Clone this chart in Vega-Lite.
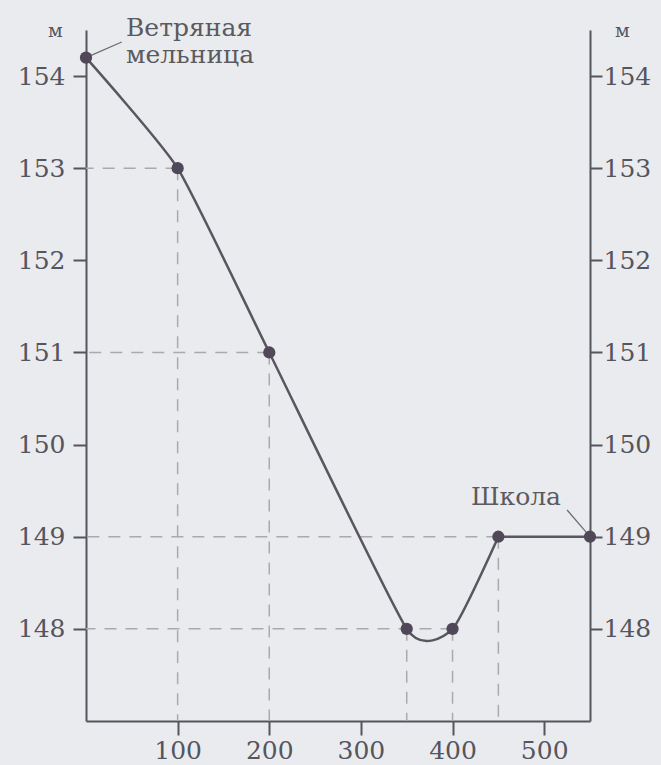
{
  "$schema": "https://vega.github.io/schema/vega-lite/v6.json",
  "width": 504,
  "height": 691,
  "autosize": {"type": "none"},
  "padding": {"left": 86, "top": 30, "right": 71, "bottom": 44},
  "background": "#eaebee",
  "config": {
    "view": {"stroke": null},
    "font": "DejaVu Serif",
    "axisX": {"title": null, "grid": false, "domainColor": "#55555e", "domainWidth": 2, "tickColor": "#55555e", "tickWidth": 2, "tickSize": 14, "labelFont": "DejaVu Serif", "labelFontSize": 25, "labelColor": "#55555e", "labelPadding": 3}
  },
  "datasets": {
    "points": [
      {"km": 0, "elev": 154.2, "name": "Ветряная\nмельница"},
      {"km": 100, "elev": 153, "name": ""},
      {"km": 200, "elev": 151, "name": ""},
      {"km": 350, "elev": 148, "name": ""},
      {"km": 400, "elev": 148, "name": ""},
      {"km": 450, "elev": 149, "name": ""},
      {"km": 550, "elev": 149, "name": "Школа"}
    ],
    "leaders": [
      {"km": 0, "elev": 154.2, "km2": 39, "elev2": 154.37},
      {"km": 525, "elev": 149.29, "km2": 550, "elev2": 149}
    ]
  },
  "resolve": {"scale": {"y": "independent"}, "axis": {"y": "independent"}},
  "layer": [
    {
      "data": {"name": "points"},
      "transform": [{"filter": {"field": "km", "oneOf": [100, 200, 350, 400, 450]}}],
      "mark": {"type": "rule", "color": "#a9a9ae", "strokeDash": [12, 9], "strokeWidth": 1.5},
      "encoding": {
        "x": {"field": "km", "type": "quantitative", "scale": {"domain": [0, 550], "nice": false, "zero": false}, "title": null, "axis": {"values": [100, 200, 300, 400, 500]}},
        "y": {"field": "elev", "type": "quantitative", "scale": {"domain": [147, 154.5], "nice": false, "zero": false}, "axis": null},
        "y2": {"datum": 147}
      }
    },
    {
      "data": {"name": "points"},
      "transform": [{"filter": {"field": "km", "oneOf": [100, 200, 400, 450]}}],
      "mark": {"type": "rule", "color": "#a9a9ae", "strokeDash": [12, 9], "strokeWidth": 1.5},
      "encoding": {
        "x": {"field": "km", "type": "quantitative", "scale": {"domain": [0, 550], "nice": false, "zero": false}, "title": null, "axis": {"values": [100, 200, 300, 400, 500]}},
        "x2": {"datum": 0},
        "y": {"field": "elev", "type": "quantitative", "scale": {"domain": [147, 154.5], "nice": false, "zero": false}, "axis": null}
      }
    },
    {
      "data": {"name": "points"},
      "transform": [{"filter": "datum.km <= 450"}],
      "mark": {"type": "line", "interpolate": "cardinal", "tension": 0.5, "color": "#5a5560", "strokeWidth": 2.5},
      "encoding": {
        "x": {"field": "km", "type": "quantitative", "scale": {"domain": [0, 550], "nice": false, "zero": false}, "title": null, "axis": {"values": [100, 200, 300, 400, 500]}},
        "y": {"field": "elev", "type": "quantitative", "scale": {"domain": [147, 154.5], "nice": false, "zero": false},
          "axis": {"values": [148, 149, 150, 151, 152, 153, 154], "grid": false, "domainColor": "#55555e", "domainWidth": 2, "tickColor": "#55555e", "tickWidth": 2, "tickSize": 13, "labelFont": "DejaVu Serif", "labelFontSize": 25, "labelColor": "#55555e", "labelPadding": 8,
            "title": "м", "titleAngle": 0, "titleX": -31, "titleY": 6, "titleAlign": "center", "titleBaseline": "alphabetic", "titleFont": "DejaVu Serif", "titleFontSize": 19, "titleFontWeight": "normal", "titleColor": "#55555e"}}
      }
    },
    {
      "data": {"name": "points"},
      "transform": [{"filter": "datum.km >= 450"}],
      "mark": {"type": "line", "color": "#5a5560", "strokeWidth": 2.5},
      "encoding": {
        "x": {"field": "km", "type": "quantitative", "scale": {"domain": [0, 550], "nice": false, "zero": false}, "title": null, "axis": {"values": [100, 200, 300, 400, 500]}},
        "y": {"field": "elev", "type": "quantitative", "scale": {"domain": [147, 154.5], "nice": false, "zero": false}, "axis": null}
      }
    },
    {
      "data": {"name": "leaders"},
      "mark": {"type": "rule", "color": "#6a6a70", "strokeWidth": 1.2},
      "encoding": {
        "x": {"field": "km", "type": "quantitative", "scale": {"domain": [0, 550], "nice": false, "zero": false}, "title": null, "axis": {"values": [100, 200, 300, 400, 500]}},
        "x2": {"field": "km2"},
        "y": {"field": "elev", "type": "quantitative", "scale": {"domain": [147, 154.5], "nice": false, "zero": false}, "axis": null},
        "y2": {"field": "elev2"}
      }
    },
    {
      "data": {"name": "points"},
      "mark": {"type": "circle", "color": "#504858", "opacity": 1, "size": 150},
      "encoding": {
        "x": {"field": "km", "type": "quantitative", "scale": {"domain": [0, 550], "nice": false, "zero": false}, "title": null, "axis": {"values": [100, 200, 300, 400, 500]}},
        "y": {"field": "elev", "type": "quantitative", "scale": {"domain": [147, 154.5], "nice": false, "zero": false},
          "axis": {"orient": "right", "values": [148, 149, 150, 151, 152, 153, 154], "grid": false, "domainColor": "#55555e", "domainWidth": 2, "tickColor": "#55555e", "tickWidth": 2, "tickSize": 12, "labelFont": "DejaVu Serif", "labelFontSize": 25, "labelColor": "#55555e", "labelPadding": 1,
            "title": "м", "titleAngle": 0, "titleX": 32, "titleY": 6, "titleAlign": "center", "titleBaseline": "alphabetic", "titleFont": "DejaVu Serif", "titleFontSize": 19, "titleFontWeight": "normal", "titleColor": "#55555e"}}
      }
    },
    {
      "data": {"name": "points"},
      "transform": [{"filter": "datum.km == 0"}],
      "mark": {"type": "text", "align": "left", "baseline": "alphabetic", "dx": 40, "dy": -22, "lineBreak": "\n", "lineHeight": 27, "font": "DejaVu Serif", "fontSize": 25, "color": "#5a5a60"},
      "encoding": {
        "x": {"field": "km", "type": "quantitative", "scale": {"domain": [0, 550], "nice": false, "zero": false}, "title": null, "axis": {"values": [100, 200, 300, 400, 500]}},
        "y": {"field": "elev", "type": "quantitative", "scale": {"domain": [147, 154.5], "nice": false, "zero": false}, "axis": null},
        "text": {"field": "name"}
      }
    },
    {
      "data": {"name": "points"},
      "transform": [{"filter": "datum.km == 550"}],
      "mark": {"type": "text", "align": "center", "baseline": "alphabetic", "dx": -74, "dy": -32, "font": "DejaVu Serif", "fontSize": 25, "color": "#5a5a60"},
      "encoding": {
        "x": {"field": "km", "type": "quantitative", "scale": {"domain": [0, 550], "nice": false, "zero": false}, "title": null, "axis": {"values": [100, 200, 300, 400, 500]}},
        "y": {"field": "elev", "type": "quantitative", "scale": {"domain": [147, 154.5], "nice": false, "zero": false}, "axis": null},
        "text": {"field": "name"}
      }
    }
  ]
}
